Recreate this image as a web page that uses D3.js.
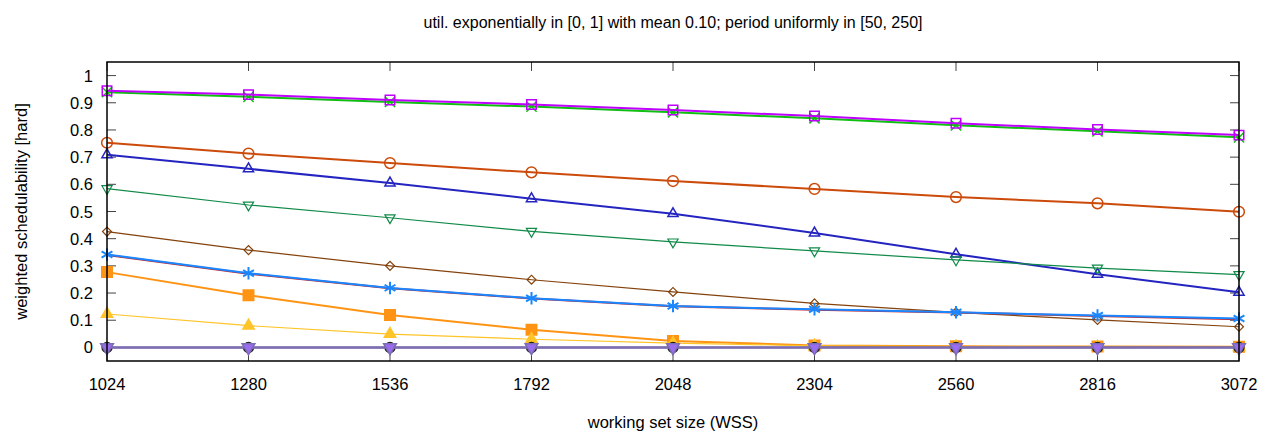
<!DOCTYPE html>
<html><head><meta charset="utf-8">
<script src="https://cdn.jsdelivr.net/npm/d3@7"></script>
<style>body{margin:0;background:#fff}svg{display:block}text{font-family:"Liberation Sans",Arial,sans-serif}</style>
</head><body><svg id="c" width="1276" height="436"></svg>
<script>
const title = "util. exponentially in [0, 1] with mean 0.10; period uniformly in [50, 250]";
const xLabel = "working set size (WSS)";
const yLabel = "weighted schedulability [hard]";
const wss = [1024, 1280, 1536, 1792, 2048, 2304, 2560, 2816, 3072];
const yTicks = [0, 0.1, 0.2, 0.3, 0.4, 0.5, 0.6, 0.7, 0.8, 0.9, 1];

const sZeroBlack  = [0, 0, 0, 0, 0, 0, 0, 0, 0];
const sZeroPurple = [0, 0, 0, 0, 0, 0, 0, 0, 0];
const sYellow   = [0.123, 0.080, 0.049, 0.030, 0.016, 0.006, 0.003, 0.002, 0.001];
const sOrangeSq = [0.277, 0.192, 0.119, 0.065, 0.024, 0.007, 0.004, 0.003, 0.002];
const sRed      = [0.340, 0.271, 0.218, 0.180, 0.151, 0.139, 0.128, 0.116, 0.104];
const sStar     = [0.342, 0.273, 0.219, 0.181, 0.152, 0.140, 0.129, 0.117, 0.106];
const sBrown    = [0.426, 0.358, 0.300, 0.249, 0.204, 0.162, 0.129, 0.101, 0.076];
const sDownTri  = [0.584, 0.524, 0.477, 0.427, 0.388, 0.355, 0.322, 0.292, 0.268];
const sBlueTri  = [0.709, 0.657, 0.605, 0.547, 0.492, 0.421, 0.343, 0.269, 0.203];
const sCircle   = [0.753, 0.713, 0.678, 0.644, 0.612, 0.583, 0.553, 0.530, 0.499];
const sGreenX   = [0.939, 0.922, 0.903, 0.886, 0.865, 0.843, 0.817, 0.795, 0.773];
const sMagenta  = [0.944, 0.930, 0.910, 0.894, 0.873, 0.851, 0.825, 0.802, 0.781];

const series = [
  {v: sGreenX,   color:"#10c010", w:2,   sym:"x"},
  {v: sMagenta,  color:"#c000ff", w:2,   sym:"square"},
  {v: sCircle,   color:"#cc4a0a", w:2,   sym:"circle"},
  {v: sBlueTri,  color:"#2424c0", w:2,   sym:"tri"},
  {v: sDownTri,  color:"#108a48", w:1.2, sym:"dtri"},
  {v: sBrown,    color:"#84420c", w:1.2, sym:"diamond"},
  {v: sRed,      color:"#d02020", w:2,   sym:"none"},
  {v: sStar,     color:"#1a86ff", w:2,   sym:"star"},
  {v: sOrangeSq, color:"#ff9414", w:2,   sym:"fsquare"},
  {v: sYellow,   color:"#ffc428", w:1.2, sym:"ftri"},
  {v: sZeroBlack,color:"#202020", w:1.5, sym:"fcircle"},
  {v: sZeroPurple,color:"#7c6cb4", w:2.5, sym:"fdtri", fill:"#9b6cf0"}
];

const L=107,R=1239,T=62,B=361;
const svg=d3.select("#c");
const x=d3.scaleLinear().domain([1024,3072]).range([L,R]);
const y=d3.scaleLinear().domain([-0.05,1.05]).range([B,T]);

svg.append("text").attr("x",(L+R)/2).attr("y",28).attr("text-anchor","middle").attr("font-size",16).text(title);

const tick="#444";
const g=svg.append("g");
wss.forEach(d=>{
  g.append("line").attr("x1",x(d)).attr("x2",x(d)).attr("y1",B).attr("y2",B-9).attr("stroke",tick);
  g.append("line").attr("x1",x(d)).attr("x2",x(d)).attr("y1",T).attr("y2",T+9).attr("stroke",tick);
  g.append("text").attr("x",x(d)).attr("y",390).attr("text-anchor","middle").attr("font-size",16.5).text(d);
});
yTicks.forEach(d=>{
  g.append("line").attr("x1",L).attr("x2",L+9).attr("y1",y(d)).attr("y2",y(d)).attr("stroke",tick);
  g.append("line").attr("x1",R).attr("x2",R-9).attr("y1",y(d)).attr("y2",y(d)).attr("stroke",tick);
  g.append("text").attr("x",93).attr("y",y(d)+6).attr("text-anchor","end").attr("font-size",16.5).text(d3.format("~g")(d));
});
svg.append("text").attr("x",(L+R)/2).attr("y",428).attr("text-anchor","middle").attr("font-size",16.5).text(xLabel);
svg.append("text").attr("transform",`translate(27,${(T+B)/2}) rotate(-90)`).attr("text-anchor","middle").attr("font-size",16.5).text(yLabel);

const line=d3.line().x((d,i)=>x(wss[i])).y(d=>y(d));
const sym={
  square:[d3.symbolSquare,90,0,false,1.5],
  fsquare:[d3.symbolSquare,110,0,true,1.5],
  circle:[d3.symbolCircle,90,0,false,1.5],
  fcircle:[d3.symbolCircle,75,0,true,1.5],
  tri:[d3.symbolTriangle,45,0,false,1.5],
  ftri:[d3.symbolTriangle,55,0,true,1.5],
  dtri:[d3.symbolTriangle,45,180,false,1.2],
  fdtri:[d3.symbolTriangle,70,180,true,1.5],
  diamond:[d3.symbolSquare,40,45,false,1.2],
  star:[d3.symbolAsterisk,110,0,false,2],
  x:[d3.symbolTimes,70,0,false,1.5]
};
series.forEach(s=>{
  svg.append("path").attr("d",line(s.v)).attr("fill","none").attr("stroke",s.color).attr("stroke-width",s.w);
  if(s.sym==="none")return;
  const [t,sz,rot,filled,sw]=sym[s.sym];
  const p=d3.symbol().type(t).size(sz)();
  s.v.forEach((d,i)=>{
    svg.append("path").attr("d",p).attr("transform",`translate(${x(wss[i])},${y(d)}) rotate(${rot})`)
      .attr("fill",filled?(s.fill||s.color):"none").attr("stroke",s.color).attr("stroke-width",sw);
  });
});
svg.append("rect").attr("x",L).attr("y",T).attr("width",R-L).attr("height",B-T).attr("fill","none").attr("stroke","#000").attr("stroke-width",1.5);
</script></body></html>
